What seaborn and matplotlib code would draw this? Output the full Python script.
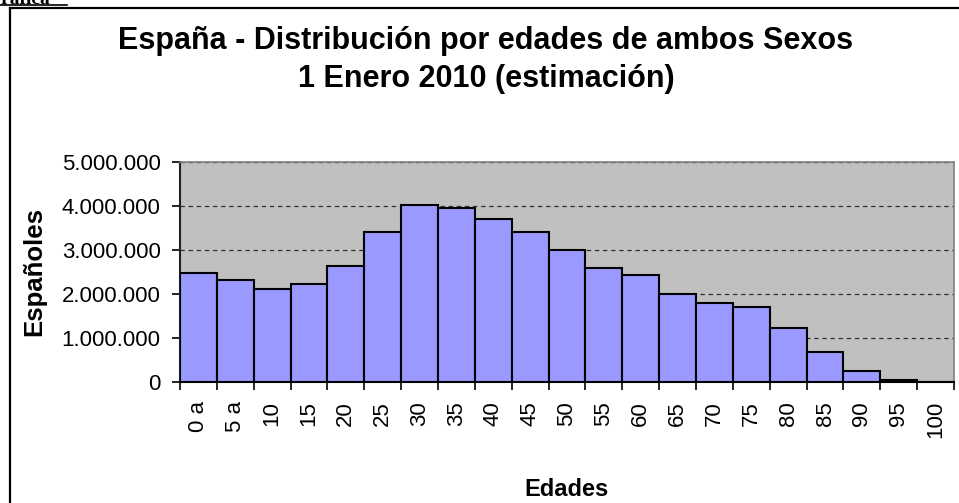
import numpy as np
import pandas as pd
import matplotlib
matplotlib.use("Agg")
import matplotlib.pyplot as plt
from matplotlib.lines import Line2D
from matplotlib.ticker import FuncFormatter, FixedLocator
import seaborn as sns

# age groups (5 year bands) and population
edades = ["0 a", "5 a", "10", "15", "20", "25", "30", "35", "40", "45", "50",
          "55", "60", "65", "70", "75", "80", "85", "90", "95", "100"]
espanoles = [2460000, 2310000, 2110000, 2210000, 2630000, 3400000, 4020000,
             3950000, 3700000, 3400000, 2990000, 2580000, 2420000, 2000000,
             1800000, 1700000, 1230000, 670000, 250000, 50000, 0]

df = pd.DataFrame({"edad": edades, "poblacion": espanoles})

plt.rcParams['font.family'] = ['Liberation Sans', 'DejaVu Sans']

fig = plt.figure(figsize=(9.59, 5.03), dpi=100)
ax = fig.add_axes([180 / 959, 1 - 381.7 / 503, 774 / 959, 220 / 503])

sns.barplot(data=df, x="edad", y="poblacion", ax=ax, color="#9999FF",
            saturation=1, width=1.0, edgecolor="black", linewidth=1.5,
            zorder=3)

ax.set_facecolor("#C0C0C0")
ax.set_xlim(-0.5, len(edades) - 0.5)
ax.set_ylim(0, 5000000)
ax.set_yticks([0, 1000000, 2000000, 3000000, 4000000, 5000000])
ax.yaxis.set_major_formatter(FuncFormatter(lambda v, p: f"{int(v):,}".replace(",", ".")))
ax.yaxis.grid(True, color="#303030", linestyle=(0, (3.5, 3)), linewidth=0.9, zorder=1)
ax.set_axisbelow(True)

# tick marks on category boundaries, labels centred
ax.set_xticks(np.arange(len(edades)))
ax.set_xticklabels(edades, rotation=90, fontsize=16)
ax.xaxis.set_minor_locator(FixedLocator(np.arange(len(edades) + 1) - 0.5))
ax.tick_params(axis="x", which="major", length=0, pad=14)
ax.tick_params(axis="x", which="minor", length=6, width=1.2, color="black")
ax.tick_params(axis="y", length=6, width=1.2, pad=8, labelsize=16)

for s in ["top", "right"]:
    ax.spines[s].set_color("#808080")
    ax.spines[s].set_linewidth(1.2)
ax.spines["left"].set_color("#202020")
ax.spines["left"].set_linewidth(1.5)
ax.spines["bottom"].set_color("black")
ax.spines["bottom"].set_linewidth(1.5)

ax.set_xlabel("")
ax.set_ylabel("")
fig.text(34 / 959, 1 - 271 / 503, "Españoles", fontsize=18.5, fontweight="bold",
         rotation=90, ha="center", va="center")
fig.text(567 / 959, 1 - 490 / 503, "Edades", fontsize=17, fontweight="bold",
         ha="center", va="center")

fig.text(486 / 959, 1 - 41 / 503, "España - Distribución por edades de ambos Sexos",
         fontsize=22, fontweight="bold", ha="center", va="center")
fig.text(486 / 959, 1 - 79 / 503, "1 Enero 2010 (estimación)",
         fontsize=22, fontweight="bold", ha="center", va="center")

# chart frame (left and top edges visible in the cropped picture)
fig.add_artist(Line2D([10 / 959, 10 / 959], [0, 1 - 7.5 / 503], color="black", lw=1.6,
                      transform=fig.transFigure))
fig.add_artist(Line2D([10 / 959, 1], [1 - 7.5 / 503, 1 - 7.5 / 503], color="black", lw=1.6,
                      transform=fig.transFigure))
# heading of the page, mostly cut off at the top
fig.text(-14 / 959, 1 - 4 / 503, "Gráfica", fontsize=14, fontweight="bold",
         family=["Liberation Serif", "DejaVu Serif"], ha="left", va="baseline")
fig.add_artist(Line2D([0, 67 / 959], [1 - 5 / 503, 1 - 5 / 503], color="black", lw=1.2,
                      transform=fig.transFigure))

fig.savefig("out.png", dpi=100)
